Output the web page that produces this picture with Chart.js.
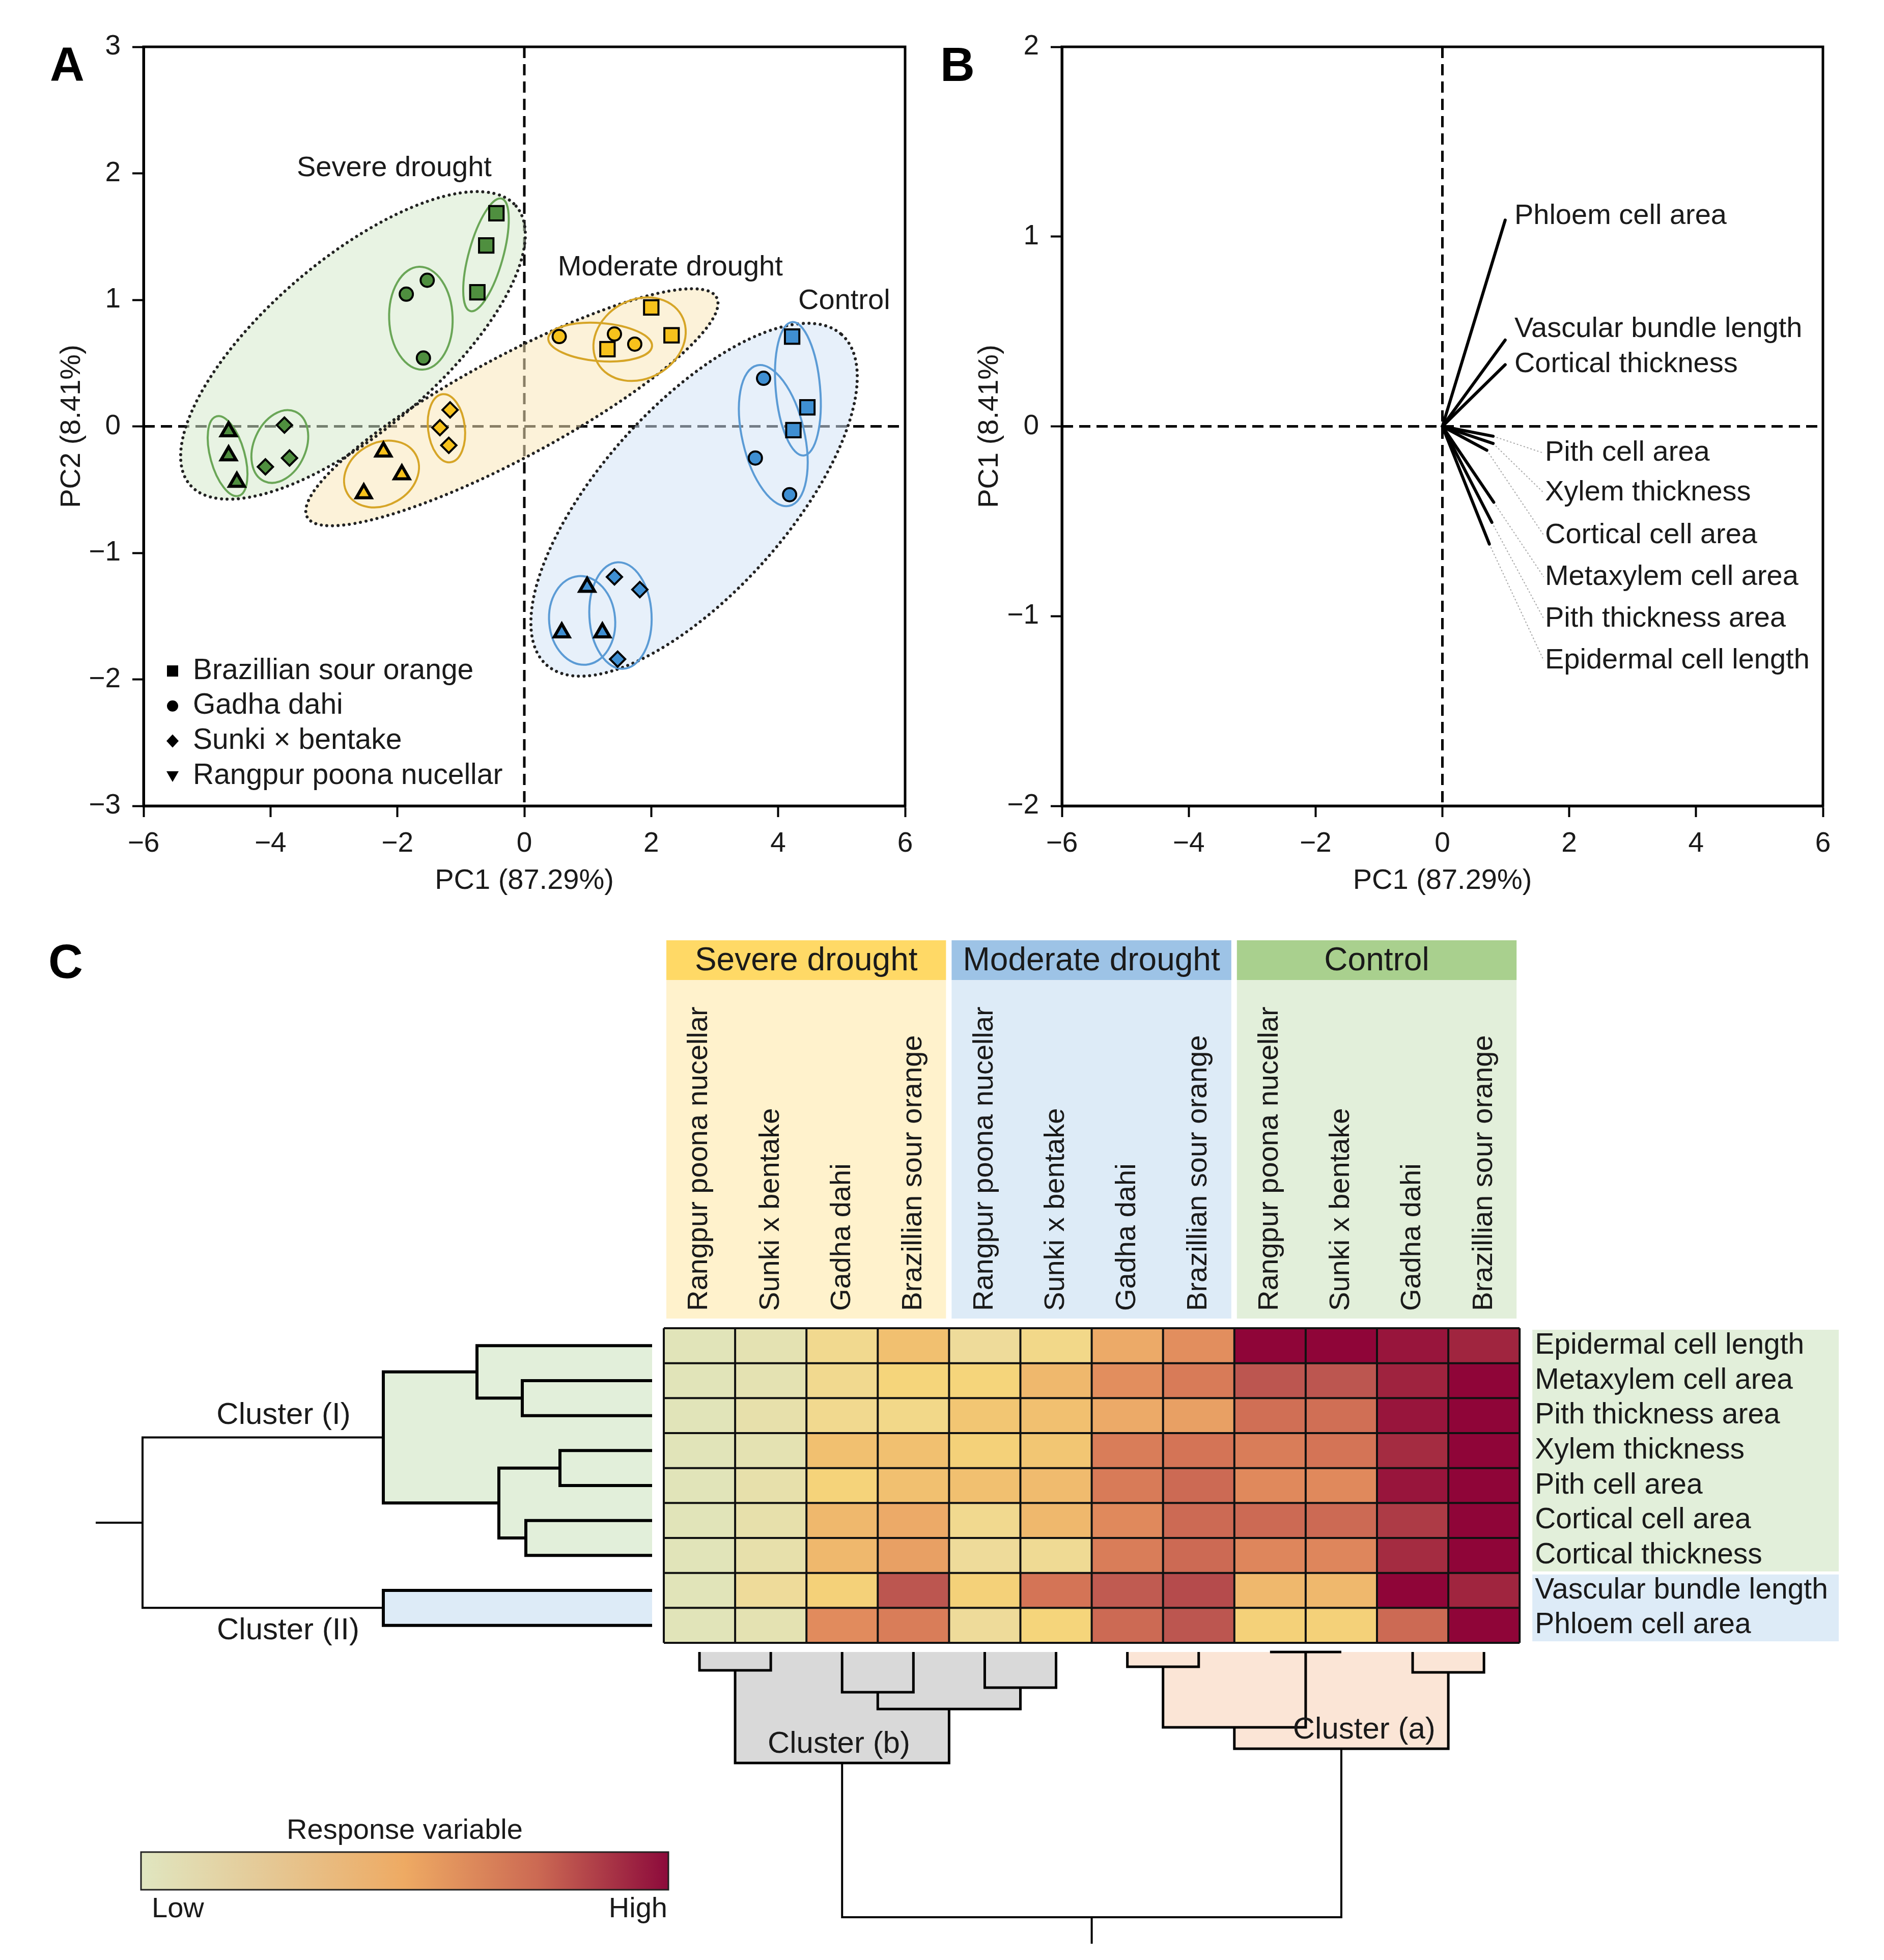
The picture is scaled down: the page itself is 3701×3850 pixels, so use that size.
<!DOCTYPE html>
<html>
<head>
<meta charset="utf-8">
<title>PCA and heatmap of stem anatomy under drought</title>
<script src="https://cdn.jsdelivr.net/npm/chart.js@4.4.1/dist/chart.umd.min.js"></script>
<style>
  html, body { margin: 0; padding: 0; background: #fff; }
  body { position: relative; width: 3701px; height: 3850px; overflow: hidden; font-family: "Liberation Sans", Arial, sans-serif; }
  .panel { position: absolute; }
  .tag { position: absolute; font-weight: bold; font-size: 94px; line-height: 1; color: #000; }
</style>
</head>
<body>
<div class="panel" style="left:0;top:0;width:1850px;height:1800px"><canvas id="scoresChart"></canvas></div>
<div class="panel" style="left:1850px;top:0;width:1851px;height:1800px"><canvas id="loadingsChart"></canvas></div>
<div class="panel" style="left:0;top:1800px;width:3701px;height:2050px"><canvas id="heatmapChart"></canvas></div>
<div class="tag" style="left:98px;top:80px">A</div>
<div class="tag" style="left:1847px;top:80px">B</div>
<div class="tag" style="left:95px;top:1842px">C</div>
<script>
// =====================================================================
// Data
// =====================================================================
const genotypes = ["Brazillian sour orange", "Gadha dahi", "Sunki × bentake", "Rangpur poona nucellar"];
const treatments = ["Severe drought", "Moderate drought", "Control"];

// PCA scores, one row per genotype (same order as genotypes), 3 replicates
const severePC1 = [[-0.44, -0.60, -0.74], [-1.86, -1.53, -1.59], [-3.78, -4.08, -3.70], [-4.66, -4.66, -4.53]];
const severePC2 = [[1.685, 1.43, 1.06], [1.045, 1.155, 0.54], [0.01, -0.32, -0.25], [-0.04, -0.23, -0.44]];
const moderatePC1 = [[2.00, 2.32, 1.31], [0.55, 1.42, 1.74], [-1.17, -1.33, -1.19], [-2.22, -1.93, -2.53]];
const moderatePC2 = [[0.94, 0.72, 0.61], [0.71, 0.73, 0.65], [0.13, -0.01, -0.15], [-0.20, -0.38, -0.53]];
const controlPC1 = [[4.22, 4.46, 4.24], [3.77, 3.64, 4.18], [1.42, 1.82, 1.47], [0.99, 0.59, 1.23]];
const controlPC2 = [[0.71, 0.15, -0.03], [0.38, -0.25, -0.54], [-1.19, -1.29, -1.84], [-1.27, -1.63, -1.63]];

// group ellipses: [centre PC1, centre PC2, semi-major, semi-minor (PC1 units), angle deg]
const cloudEllipses = [[-2.70, 0.64, 3.38, 1.35, 40.5], [-0.196, 0.151, 3.66, 0.80, 28.2], [2.675, -0.58, 3.49, 1.47, 48.2]];
const severeRings = [[-0.604, 1.356, 0.92, 0.27, 74.4], [-1.63, 0.855, 0.81, 0.50, 92], [-3.853, -0.159, 0.60, 0.41, 66], [-4.676, -0.235, 0.65, 0.27, 105.6]];
const moderateRings = [[1.816, 0.689, 0.76, 0.62, 30], [1.195, 0.666, 0.82, 0.30, -4.5], [-1.227, -0.015, 0.54, 0.29, 96.6], [-2.25, -0.377, 0.62, 0.49, 30]];
const controlRings = [[4.311, 0.297, 1.055, 0.35, 95], [3.923, -0.073, 1.135, 0.49, 103], [1.515, -1.495, 0.84, 0.49, 93], [0.911, -1.534, 0.70, 0.52, 95]];

// loadings
const loadingNames = ["Phloem cell area", "Vascular bundle length", "Cortical thickness", "Pith cell area", "Xylem thickness",
  "Cortical cell area", "Metaxylem cell area", "Pith thickness area", "Epidermal cell length"];
const loadingPC1 = [0.99, 0.99, 0.99, 0.80, 0.80, 0.70, 0.81, 0.78, 0.74];
const loadingPC2 = [1.087, 0.455, 0.325, -0.052, -0.09, -0.126, -0.40, -0.506, -0.62];

// heatmap
const heatGroups = ["Severe drought", "Moderate drought", "Control"];
const heatGenotypes = ["Rangpur poona nucellar", "Sunki x bentake", "Gadha dahi", "Brazillian sour orange"];
const heatRows = ["Epidermal cell length", "Metaxylem cell area", "Pith thickness area", "Xylem thickness", "Pith cell area",
  "Cortical cell area", "Cortical thickness", "Vascular bundle length", "Phloem cell area"];
const heatValues = [
  [0.00, 0.02, 0.13, 0.30, 0.09, 0.15, 0.38, 0.49, 1.00, 1.00, 0.93, 0.86],
  [0.00, 0.02, 0.13, 0.20, 0.20, 0.33, 0.49, 0.57, 0.72, 0.72, 0.87, 1.00],
  [0.00, 0.04, 0.13, 0.15, 0.27, 0.30, 0.38, 0.42, 0.62, 0.62, 0.93, 1.00],
  [0.00, 0.02, 0.30, 0.30, 0.22, 0.27, 0.56, 0.60, 0.56, 0.60, 0.83, 1.00],
  [0.00, 0.04, 0.21, 0.30, 0.30, 0.32, 0.57, 0.64, 0.51, 0.51, 0.93, 1.00],
  [0.00, 0.04, 0.33, 0.38, 0.13, 0.33, 0.51, 0.64, 0.64, 0.64, 0.79, 1.00],
  [0.00, 0.04, 0.33, 0.42, 0.09, 0.11, 0.56, 0.64, 0.52, 0.52, 0.83, 1.00],
  [0.00, 0.09, 0.22, 0.72, 0.22, 0.60, 0.70, 0.75, 0.33, 0.33, 1.00, 0.86],
  [0.00, 0.02, 0.50, 0.56, 0.09, 0.20, 0.64, 0.72, 0.22, 0.22, 0.64, 1.00]
];
// dendrograms: [child a, child b, merge height]; new node ids follow the leaves
const rowMerges = [[1, 2, 2.55], [0, 9, 3.44], [3, 4, 1.81], [5, 6, 2.48], [11, 12, 3.01], [10, 13, 5.28], [7, 8, 5.28], [14, 15, 10.01]];
const colMerges = [[0, 1, 0.36], [2, 3, 0.79], [4, 5, 0.70], [13, 14, 1.12], [12, 15, 2.18], [6, 7, 0.29], [8, 9, 0.0],
  [17, 18, 1.48], [10, 11, 0.40], [19, 20, 1.90], [16, 21, 5.21]];
const rowClusters = [[14, "Cluster (I)"], [15, "Cluster (II)"]];
const colClusters = [[16, "Cluster (b)"], [21, "Cluster (a)"]];

// =====================================================================
// Styles
// =====================================================================
const FONT = '"Liberation Sans", Arial, sans-serif';
const INK = "#1a1a1a";
Chart.defaults.font.family = FONT;
Chart.defaults.color = INK;

const groupColors = ["#4f8f3f", "#f7c21c", "#3f8fd2"];
const ringColors = ["#6aa657", "#d6a527", "#5b9bd5"];
const cloudFills = ["rgba(214,234,204,0.55)", "rgba(250,232,186,0.55)", "rgba(212,228,245,0.55)"];
const genotypeMarks = [{ style: "rect", r: 20, bw: 4 }, { style: "circle", r: 13, bw: 4 }, { style: "rectRot", r: 15, bw: 4 }, { style: "triangle", r: 17, bw: 6 }];
const cloudLabelAt = [[-2.05, 2.04], [2.30, 1.257], [5.04, 0.99]];
const loadingLabelAt = [[1.135, 1.107], [1.135, 0.511], [1.135, 0.326], [1.617, -0.141], [1.617, -0.35], [1.617, -0.573],
  [1.617, -0.793], [1.617, -1.013], [1.617, -1.233]];

const heatStops = [[0, "#e1e4b9"], [0.09, "#eedb9a"], [0.2, "#f5d57b"], [0.3, "#f1c070"], [0.38, "#ecaa68"], [0.5, "#e18b5d"],
  [0.6, "#d47456"], [0.72, "#bc5650"], [0.83, "#a42c41"], [1, "#8f0538"]];
const legendStops = ["#e0e6c0", "#e5c793", "#eeaa63", "#cc6a53", "#8c0a3b"];
const headerColors = ["#ffd966", "#9dc3e6", "#a9d08e"];
const headerBg = ["#fff2cc", "#ddebf7", "#e2efda"];
const rowClusterFill = ["#e2efda", "#ddebf7"];
const colClusterFill = ["#d9d9d9", "#fbe5d6"];

function hexRgb(h) { return [1, 3, 5].map(i => parseInt(h.substr(i, 2), 16)); }
function heatColor(v) {
  for (let i = 1; i < heatStops.length; i++) {
    const [v1, c1] = heatStops[i];
    const [v0, c0] = heatStops[i - 1];
    if (v <= v1) {
      const t = (v - v0) / (v1 - v0 || 1);
      const a = hexRgb(c0), b = hexRgb(c1);
      return "rgb(" + a.map((x, k) => Math.round(x + (b[k] - x) * t)).join(",") + ")";
    }
  }
  return heatStops[heatStops.length - 1][1];
}
const minus = v => (v < 0 ? "\u2212" + Math.abs(v) : String(v));

function axisOpts(min, max, step, title, isX, titlePad, size) {
  return {
    type: "linear", min, max,
    ticks: { stepSize: step, padding: isX ? 20 : 23, font: { size: 55 }, color: INK, callback: minus },
    grid: { display: true, drawOnChartArea: false, drawTicks: true, tickLength: 22, tickWidth: 4, tickColor: "#000" },
    border: { display: true, color: "#000", width: 5 },
    title: { display: true, text: title, font: { size: 56 }, color: INK,
      padding: isX ? { top: 0, bottom: titlePad } : { top: titlePad, bottom: 0 } },
    afterFit: s => { if (isX) s.height = size; else s.width = size; }
  };
}

function zeroLines(chart) {
  const { ctx, chartArea: ca, scales: { x, y } } = chart;
  ctx.save();
  ctx.strokeStyle = "#000";
  ctx.lineWidth = 5;
  ctx.setLineDash([22, 12]);
  ctx.beginPath();
  ctx.moveTo(x.getPixelForValue(0), ca.top);
  ctx.lineTo(x.getPixelForValue(0), ca.bottom);
  ctx.moveTo(ca.left, y.getPixelForValue(0));
  ctx.lineTo(ca.right, y.getPixelForValue(0));
  ctx.stroke();
  ctx.restore();
}
const framePlugin = {
  id: "frame",
  afterDraw(chart) {
    const { ctx, chartArea: ca } = chart;
    ctx.save();
    ctx.strokeStyle = "#000";
    ctx.lineWidth = 5;
    ctx.strokeRect(ca.left, ca.top, ca.right - ca.left, ca.bottom - ca.top);
    ctx.restore();
  }
};

// =====================================================================
// Panel A - PCA scores
// =====================================================================
function ellipsePath(ctx, xs, ys, e) {
  const [cx, cy, a, b, ang] = e;
  const unit = xs.getPixelForValue(1) - xs.getPixelForValue(0);
  ctx.beginPath();
  ctx.ellipse(xs.getPixelForValue(cx), ys.getPixelForValue(cy), a * unit, b * unit, -ang * Math.PI / 180, 0, Math.PI * 2);
}

const scoreDecor = {
  id: "scoreDecor",
  beforeDatasetsDraw(chart) {
    const { ctx, scales: { x, y } } = chart;
    zeroLines(chart);
    ctx.save();
    cloudEllipses.forEach((e, i) => { ellipsePath(ctx, x, y, e); ctx.fillStyle = cloudFills[i]; ctx.fill(); });
    ctx.strokeStyle = "#222";
    ctx.lineWidth = 6;
    ctx.lineCap = "round";
    ctx.setLineDash([0.1, 11]);
    cloudEllipses.forEach(e => { ellipsePath(ctx, x, y, e); ctx.stroke(); });
    ctx.setLineDash([]);
    ctx.lineWidth = 4;
    [severeRings, moderateRings, controlRings].forEach((rings, t) => {
      ctx.strokeStyle = ringColors[t];
      rings.forEach(e => { ellipsePath(ctx, x, y, e); ctx.stroke(); });
    });
    ctx.restore();
  },
  afterDatasetsDraw(chart) {
    const { ctx, chartArea: ca, scales: { x, y } } = chart;
    ctx.save();
    ctx.fillStyle = INK;
    ctx.font = "56px " + FONT;
    ctx.textAlign = "center";
    ctx.textBaseline = "middle";
    treatments.forEach((t, i) => ctx.fillText(t, x.getPixelForValue(cloudLabelAt[i][0]), y.getPixelForValue(cloudLabelAt[i][1])));
    // genotype legend
    ctx.font = "57px " + FONT;
    ctx.textAlign = "left";
    genotypes.forEach((g, i) => {
      const cx = ca.left + 57, cy = ca.bottom - 265 + i * 68.7;
      ctx.fillStyle = "#000";
      ctx.beginPath();
      if (i === 0) ctx.rect(cx - 11, cy - 11, 22, 22);
      else if (i === 1) ctx.arc(cx, cy, 11, 0, Math.PI * 2);
      else if (i === 2) { ctx.moveTo(cx, cy - 13); ctx.lineTo(cx + 12, cy); ctx.lineTo(cx, cy + 13); ctx.lineTo(cx - 12, cy); }
      else { ctx.moveTo(cx - 12, cy - 9); ctx.lineTo(cx + 12, cy - 9); ctx.lineTo(cx, cy + 12); }
      ctx.closePath();
      ctx.fill();
      ctx.fillStyle = INK;
      ctx.fillText(g, ca.left + 97, cy);
    });
    ctx.restore();
  }
};

const scoreDatasets = [];
[[severePC1, severePC2], [moderatePC1, moderatePC2], [controlPC1, controlPC2]].forEach(([pc1, pc2], t) => {
  genotypes.forEach((g, gi) => {
    scoreDatasets.push({
      label: treatments[t] + " - " + g,
      data: pc1[gi].map((v, k) => ({ x: v, y: pc2[gi][k] })),
      pointStyle: genotypeMarks[gi].style,
      pointRadius: genotypeMarks[gi].r,
      pointBackgroundColor: groupColors[t],
      pointBorderColor: "#000",
      pointBorderWidth: genotypeMarks[gi].bw,
      showLine: false
    });
  });
});

new Chart(document.getElementById("scoresChart"), {
  type: "scatter",
  data: { datasets: scoreDatasets },
  options: {
    responsive: true, maintainAspectRatio: false, animation: false, devicePixelRatio: 1,
    layout: { padding: { top: 92, right: 72, left: 0, bottom: 0 } },
    plugins: { legend: { display: false }, tooltip: { enabled: false } },
    scales: {
      x: axisOpts(-6, 6, 2, "PC1 (87.29%)", true, 36, 217),
      y: axisOpts(-3, 3, 1, "PC2 (8.41%)", false, 108, 282)
    }
  },
  plugins: [scoreDecor, framePlugin]
});

// =====================================================================
// Panel B - loadings
// =====================================================================
const loadingDatasets = loadingNames.map((n, i) => ({
  label: n,
  data: [{ x: 0, y: 0 }, { x: loadingPC1[i], y: loadingPC2[i] }],
  showLine: true, borderColor: "#000", borderWidth: 6, borderCapStyle: "round", pointRadius: 0
}));
loadingNames.forEach((n, i) => {
  if (i < 3) return;
  loadingDatasets.push({
    label: n + " leader",
    data: [{ x: loadingPC1[i], y: loadingPC2[i] }, { x: loadingLabelAt[i][0] - 0.02, y: loadingLabelAt[i][1] }],
    showLine: true, borderColor: "#a8a8a8", borderWidth: 2, borderDash: [3, 4], pointRadius: 0
  });
});

const loadingDecor = {
  id: "loadingDecor",
  beforeDatasetsDraw(chart) { zeroLines(chart); },
  afterDatasetsDraw(chart) {
    const { ctx, scales: { x, y } } = chart;
    ctx.save();
    ctx.fillStyle = INK;
    ctx.font = "56px " + FONT;
    ctx.textAlign = "left";
    ctx.textBaseline = "middle";
    loadingNames.forEach((n, i) => ctx.fillText(n, x.getPixelForValue(loadingLabelAt[i][0]), y.getPixelForValue(loadingLabelAt[i][1])));
    ctx.restore();
  }
};

new Chart(document.getElementById("loadingsChart"), {
  type: "scatter",
  data: { datasets: loadingDatasets },
  options: {
    responsive: true, maintainAspectRatio: false, animation: false, devicePixelRatio: 1,
    layout: { padding: { top: 92, right: 120, left: 0, bottom: 0 } },
    plugins: { legend: { display: false }, tooltip: { enabled: false } },
    scales: {
      x: axisOpts(-6, 6, 2, "PC1 (87.29%)", true, 36, 217),
      y: axisOpts(-2, 2, 1, "PC1 (8.41%)", false, 61, 236)
    }
  },
  plugins: [loadingDecor, framePlugin]
});

// =====================================================================
// Panel C - heatmap with dendrograms
// =====================================================================
const L = { colLeft: 1304, colW: 140.1, rowTop: 809, rowH: 68.67, rowLeafX: 1281, rowUnit: 100, colLeafY: 1445, colUnit: 100, W: 3701, H: 2050 };

function buildTree(nLeaves, merges) {
  const pos = [], ht = [], kids = [];
  for (let i = 0; i < nLeaves; i++) { pos.push(i + 0.5); ht.push(0); kids.push(null); }
  merges.forEach(([a, b, h]) => {
    pos.push((pos[a] + pos[b]) / 2);
    ht.push(h);
    kids.push(pos[a] <= pos[b] ? [a, b] : [b, a]);
  });
  return { pos, ht, kids, root: pos.length - 1 };
}
function leavesOf(t, k) { return t.kids[k] ? leavesOf(t, t.kids[k][0]).concat(leavesOf(t, t.kids[k][1])) : [k]; }
function outline(t, k) {
  const lp = n => {
    if (!t.kids[n]) return [[t.pos[n], 0]];
    const a = t.kids[n][0];
    return lp(a).concat([[t.pos[a], t.ht[a]], [t.pos[a], t.ht[n]]]);
  };
  const rp = n => {
    if (!t.kids[n]) return [[t.pos[n], 0]];
    const b = t.kids[n][1];
    return [[t.pos[b], t.ht[n]], [t.pos[b], t.ht[b]]].concat(rp(b));
  };
  return lp(k).concat(rp(k));
}
function drawTree(ctx, t, toPx, fills, stub, lw) {
  fills.forEach(([node, color]) => {
    ctx.beginPath();
    outline(t, node).forEach(([p, h], i) => { const [px, py] = toPx(p, h); i ? ctx.lineTo(px, py) : ctx.moveTo(px, py); });
    ctx.closePath();
    ctx.fillStyle = color;
    ctx.fill();
  });
  ctx.strokeStyle = "#000";
  ctx.lineJoin = "miter";
  ctx.lineCap = "butt";
  t.kids.forEach((kd, k) => {
    if (!kd) return;
    const [a, b] = kd;
    ctx.lineWidth = k === t.root ? 4 : lw;
    ctx.beginPath();
    ctx.moveTo(...toPx(t.pos[a], t.ht[a]));
    ctx.lineTo(...toPx(t.pos[a], t.ht[k]));
    ctx.lineTo(...toPx(t.pos[b], t.ht[k]));
    ctx.lineTo(...toPx(t.pos[b], t.ht[b]));
    ctx.stroke();
  });
  ctx.lineWidth = 4;
  ctx.beginPath();
  ctx.moveTo(...toPx(t.pos[t.root], t.ht[t.root]));
  ctx.lineTo(...toPx(t.pos[t.root], t.ht[t.root] + stub));
  ctx.stroke();
}

const rowTree = buildTree(heatRows.length, rowMerges);
const colTree = buildTree(heatGroups.length * heatGenotypes.length, colMerges);
const rowClusterLabelAt = [[7.24, -0.635], [7.15, 0.66]];   // [height, offset in rows from branch]
const colClusterLabelAt = [[-0.045, -0.37], [0.32, -0.37]]; // [offset in cols from node, offset in height]

const heatCells = [];
heatValues.forEach((row, r) => row.forEach((v, c) => heatCells.push({ x: c + 0.5, y: r + 0.5, v })));

const heatDecor = {
  id: "heatDecor",
  beforeDatasetsDraw(chart) {
    const { ctx, scales: { x, y, xd, yd } } = chart;
    const top = y.getPixelForValue(0), bottom = y.getPixelForValue(heatRows.length);
    const left = x.getPixelForValue(0), right = x.getPixelForValue(12);
    ctx.save();

    // treatment headers and genotype labels
    heatGroups.forEach((g, gi) => {
      const x0 = x.getPixelForValue(gi * 4) + 5, x1 = x.getPixelForValue(gi * 4 + 4) - 6;
      ctx.fillStyle = headerBg[gi];
      ctx.fillRect(x0, top - 684, x1 - x0, 684 - 19);
      ctx.fillStyle = headerColors[gi];
      ctx.fillRect(x0, top - 762, x1 - x0, 78);
      ctx.fillStyle = INK;
      ctx.font = "64px " + FONT;
      ctx.textAlign = "center";
      ctx.textBaseline = "middle";
      ctx.fillText(g, (x0 + x1) / 2, top - 721);
      ctx.font = "56px " + FONT;
      ctx.textAlign = "left";
      heatGenotypes.forEach((n, k) => {
        ctx.save();
        ctx.translate(x.getPixelForValue(gi * 4 + k + 0.5), top - 34);
        ctx.rotate(-Math.PI / 2);
        ctx.fillText(n, 0, 0);
        ctx.restore();
      });
    });

    // cells
    const cw = x.getPixelForValue(1) - x.getPixelForValue(0), rh = y.getPixelForValue(1) - y.getPixelForValue(0);
    chart.data.datasets[0].data.forEach(d => {
      ctx.fillStyle = heatColor(d.v);
      ctx.fillRect(x.getPixelForValue(d.x) - cw / 2, y.getPixelForValue(d.y) - rh / 2, cw, rh);
    });
    ctx.strokeStyle = "#111";
    ctx.lineWidth = 4;
    ctx.beginPath();
    for (let c = 0; c <= 12; c++) { ctx.moveTo(x.getPixelForValue(c), top); ctx.lineTo(x.getPixelForValue(c), bottom); }
    for (let r = 0; r <= heatRows.length; r++) { ctx.moveTo(left, y.getPixelForValue(r)); ctx.lineTo(right, y.getPixelForValue(r)); }
    ctx.stroke();

    // row labels with cluster shading
    rowClusters.forEach(([node], ci) => {
      const lv = leavesOf(rowTree, node);
      const r0 = Math.min(...lv), r1 = Math.max(...lv) + 1;
      ctx.fillStyle = rowClusterFill[ci];
      ctx.fillRect(right + 25, y.getPixelForValue(r0) + 3, 602, y.getPixelForValue(r1) - y.getPixelForValue(r0) - 6);
    });
    ctx.fillStyle = INK;
    ctx.font = "57px " + FONT;
    ctx.textAlign = "left";
    ctx.textBaseline = "middle";
    heatRows.forEach((n, r) => ctx.fillText(n, right + 30, y.getPixelForValue(r + 0.5)));

    // row dendrogram
    drawTree(ctx, rowTree, (p, h) => [xd.getPixelForValue(h), y.getPixelForValue(p)],
      rowClusters.map(([n], i) => [n, rowClusterFill[i]]), 0.92, 6);
    ctx.fillStyle = INK;
    ctx.font = "60px " + FONT;
    ctx.textAlign = "center";
    rowClusters.forEach(([node, label], i) => {
      ctx.fillText(label, xd.getPixelForValue(rowClusterLabelAt[i][0]), y.getPixelForValue(rowTree.pos[node] + rowClusterLabelAt[i][1]));
    });

    // column dendrogram
    drawTree(ctx, colTree, (p, h) => [x.getPixelForValue(p), yd.getPixelForValue(h)],
      colClusters.map(([n], i) => [n, colClusterFill[i]]), 0.52, 5);
    ctx.fillStyle = INK;
    colClusters.forEach(([node, label], i) => {
      ctx.fillText(label, x.getPixelForValue(colTree.pos[node] + colClusterLabelAt[i][0]), yd.getPixelForValue(colTree.ht[node] + colClusterLabelAt[i][1]));
    });

    // colour key
    const kx0 = 277, kx1 = 1313, ky0 = 1838, ky1 = 1912;
    const grad = ctx.createLinearGradient(kx0, 0, kx1, 0);
    legendStops.forEach((c, i) => grad.addColorStop(i / (legendStops.length - 1), c));
    ctx.fillStyle = grad;
    ctx.fillRect(kx0, ky0, kx1 - kx0, ky1 - ky0);
    ctx.strokeStyle = "#222";
    ctx.lineWidth = 3;
    ctx.strokeRect(kx0, ky0, kx1 - kx0, ky1 - ky0);
    ctx.fillStyle = INK;
    ctx.font = "56px " + FONT;
    ctx.textAlign = "center";
    ctx.fillText("Response variable", 795, 1797);
    ctx.textAlign = "left";
    ctx.fillText("Low", 298, 1951);
    ctx.textAlign = "right";
    ctx.fillText("High", 1311, 1951);
    ctx.restore();
  }
};

new Chart(document.getElementById("heatmapChart"), {
  type: "scatter",
  data: { datasets: [{ label: "Response variable", data: heatCells, pointRadius: 0, xAxisID: "x", yAxisID: "y" }] },
  options: {
    responsive: true, maintainAspectRatio: false, animation: false, devicePixelRatio: 1,
    layout: { padding: 0 },
    plugins: { legend: { display: false }, tooltip: { enabled: false } },
    scales: {
      x: { type: "linear", display: false, min: -L.colLeft / L.colW, max: (L.W - L.colLeft) / L.colW },
      y: { type: "linear", display: false, reverse: true, min: -L.rowTop / L.rowH, max: (L.H - L.rowTop) / L.rowH },
      xd: { type: "linear", axis: "x", display: false, reverse: true, min: (L.rowLeafX - L.W) / L.rowUnit, max: L.rowLeafX / L.rowUnit },
      yd: { type: "linear", axis: "y", display: false, reverse: true, min: -L.colLeafY / L.colUnit, max: (L.H - L.colLeafY) / L.colUnit }
    }
  },
  plugins: [heatDecor]
});
</script>
</body>
</html>
